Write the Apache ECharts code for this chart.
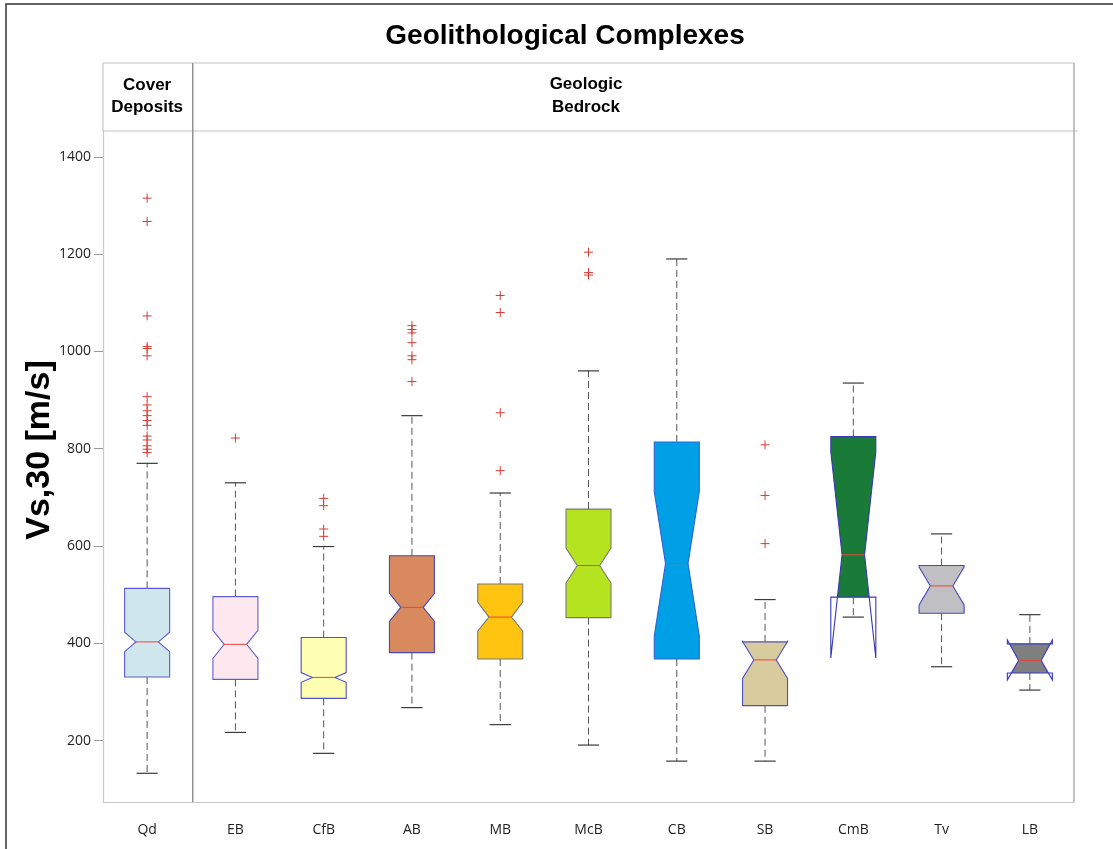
<!DOCTYPE html>
<html><head><meta charset="utf-8">
<script src="https://cdn.jsdelivr.net/npm/echarts@6/dist/echarts.min.js"></script>
<style>html,body{margin:0;padding:0;background:#fff}#c{width:1113px;height:849px}</style>
</head><body><div id="c"></div>
<script>
// ---- data ----
const categories   = ['Qd','EB','CfB','AB','MB','McB','CB','SB','CmB','Tv','LB'];
const lowerWhisker = [133, 217, 174, 268, 233, 191, 158, 158, 454, 352, 304];
const q1Values     = [331, 326, 287, 381, 368, 453, 368, 272, 495, 462, 339];
const medianValues = [403, 398, 330, 474, 454, 560, 564, 366, 582, 518, 365];
const q3Values     = [513, 496, 412, 580, 522, 676, 814, 403, 825, 560, 399];
const upperWhisker = [770, 730, 599, 868, 709, 960, 1190, 490, 935, 625, 459];
const notchLow     = [383, 369, 320, 445, 425, 524, 415, 328, 370, 479, 325];
const notchHigh    = [423, 427, 340, 503, 485, 596, 712, 404, 794, 557, 407];
const outliersQd   = [1315, 1267, 1073, 1010, 1006, 991, 907, 890, 878, 868, 858, 848, 826, 818, 806, 799, 792];
const outliersEB   = [822];
const outliersCfB  = [698, 683, 635, 620];
const outliersAB   = [1053, 1045, 1038, 1018, 991, 983, 938];
const outliersMB   = [1115, 1080, 874, 755];
const outliersMcB  = [1204, 1162, 1157];
const outliersSB   = [808, 704, 605];
const yTickValues  = [200, 400, 600, 800, 1000, 1200, 1400];

// ---- styles ----
const fillColors = ['#cfe6ec','#fde8f0','#ffffb3','#d8895d','#ffc410','#b6e31f','#00a0e6','#d8cc9f','#1a7a38','#c0c0c4','#7f7f7f'];
const edgeColors = ['#5b5bd0','#6060c8','#5050c8','#4a4ab0','#7a7a7a','#7a7a7a','#2f62d8','#5050c0','#3838b8','#4848c0','#3838c8'];

const boxData = categories.map((c, i) => [i, lowerWhisker[i], q1Values[i], medianValues[i], q3Values[i], upperWhisker[i], notchLow[i], notchHigh[i]]);
const outlierData = [];
[[0, outliersQd],[1, outliersEB],[2, outliersCfB],[3, outliersAB],[4, outliersMB],[5, outliersMcB],[7, outliersSB]]
  .forEach(([i, arr]) => arr.forEach(v => outlierData.push([i, v])));

function renderBox(params, api) {
  const i = api.value(0);
  const lw = api.value(1), q1 = api.value(2), med = api.value(3), q3 = api.value(4), uw = api.value(5), nlo = api.value(6), nhi = api.value(7);
  const cx = api.coord([i, med])[0];
  const band = api.size([1, 0])[0];
  const W = band * 0.255, inset = W * 0.5, capW = band * 0.12;
  const Y = v => api.coord([i, v])[1];
  const hw = v => {
    if (v >= nhi || v <= nlo) return W;
    if (v >= med) return W - inset * (nhi - v) / (nhi - med);
    return W - inset * (v - nlo) / (med - nlo);
  };
  const brk = [q1, med, q3];
  if (nlo > q1 && nlo < med) brk.push(nlo);
  if (nhi < q3 && nhi > med) brk.push(nhi);
  brk.sort((a, b) => a - b);
  const fillPts = brk.map(v => [cx - hw(v), Y(v)]).concat(brk.slice().reverse().map(v => [cx + hw(v), Y(v)]));
  const L = cx - W, R = cx + W, Li = cx - W + inset, Ri = cx + W - inset;
  const outline = [[L, Y(q1)], [L, Y(nlo)], [Li, Y(med)], [L, Y(nhi)], [L, Y(q3)], [R, Y(q3)], [R, Y(nhi)], [Ri, Y(med)], [R, Y(nlo)], [R, Y(q1)]];
  const dash = { stroke: '#555', lineWidth: 1, lineDash: [7, 4] };
  const cap = { stroke: '#3a3a3a', lineWidth: 1.2 };
  const hm = hw(med);
  return {
    type: 'group',
    children: [
      { type: 'line', shape: { x1: cx, y1: Y(q3), x2: cx, y2: Y(uw) }, style: dash },
      { type: 'line', shape: { x1: cx, y1: Y(q1), x2: cx, y2: Y(lw) }, style: dash },
      { type: 'line', shape: { x1: cx - capW, y1: Y(uw), x2: cx + capW, y2: Y(uw) }, style: cap },
      { type: 'line', shape: { x1: cx - capW, y1: Y(lw), x2: cx + capW, y2: Y(lw) }, style: cap },
      { type: 'polygon', shape: { points: fillPts }, style: { fill: fillColors[i], stroke: null } },
      { type: 'polygon', shape: { points: outline }, style: { fill: null, stroke: edgeColors[i], lineWidth: 1.1 } },
      { type: 'line', shape: { x1: cx - hm, y1: Y(med), x2: cx + hm, y2: Y(med) }, style: { stroke: '#e8463c', lineWidth: 1 } }
    ]
  };
}

function renderOutlier(params, api) {
  const p = api.coord([api.value(0), api.value(1)]);
  const s = 4.5;
  return {
    type: 'group',
    children: [
      { type: 'line', shape: { x1: p[0] - s, y1: p[1], x2: p[0] + s, y2: p[1] }, style: { stroke: '#d83a32', lineWidth: 1 } },
      { type: 'line', shape: { x1: p[0], y1: p[1] - s, x2: p[0], y2: p[1] + s }, style: { stroke: '#d83a32', lineWidth: 1 } }
    ]
  };
}

const chart = echarts.init(document.getElementById('c'), null, { renderer: 'canvas' });
const GRID = { left: 103, right: 39, top: 131, bottom: 47 };
const tickFont = "'Open Sans', 'Noto Sans', sans-serif";

chart.setOption({
  animation: false,
  backgroundColor: '#fff',
  grid: GRID,
  xAxis: {
    type: 'category',
    data: categories,
    boundaryGap: true,
    axisLine: { lineStyle: { color: '#c8c8c8', width: 1.2 } },
    axisTick: { alignWithLabel: true, length: 9, lineStyle: { color: '#999' }, interval: (idx) => idx !== 0 },
    axisLabel: { color: '#222', fontSize: 14, margin: 21, fontFamily: tickFont, interval: 0 },
    splitLine: { show: false }
  },
  yAxis: {
    type: 'value',
    min: 74,
    max: 1453,
    axisLine: { show: true, lineStyle: { color: '#c8c8c8', width: 1.2 } },
    axisTick: { show: true, length: 9, lineStyle: { color: '#999' }, customValues: yTickValues },
    axisLabel: { color: '#222', fontSize: 14, margin: 12, fontFamily: tickFont, customValues: yTickValues, formatter: v => String(v) },
    splitLine: { show: false }
  },
  series: [
    { type: 'custom', renderItem: renderBox, data: boxData, encode: { x: 0, y: [1, 2, 3, 4, 5] }, z: 2 },
    { type: 'custom', renderItem: renderOutlier, data: outlierData, encode: { x: 0, y: 1 }, z: 3 }
  ]
});

// decorations (header panel, divider, frame, texts)
const W0 = 1113, H0 = 849;
const plotL = GRID.left, plotR = W0 - GRID.right, plotT = GRID.top, plotB = H0 - GRID.bottom;
const headT = 63;
const c0 = chart.convertToPixel({ xAxisIndex: 0 }, 0);
const c1 = chart.convertToPixel({ xAxisIndex: 0 }, 1);
const divX = (c0 + c1) / 2 + 1.5;
const hdrFont = "'Liberation Sans', Arial, sans-serif";

chart.setOption({
  graphic: [
    { type: 'rect', shape: { x: 6, y: 4, width: 1200, height: 900 }, style: { fill: null, stroke: '#333', lineWidth: 1.5 }, silent: true },
    { type: 'line', shape: { x1: plotL, y1: headT, x2: plotR, y2: headT }, style: { stroke: '#c4c4c4', lineWidth: 1.2 } },
    { type: 'line', shape: { x1: plotL, y1: plotT, x2: plotR + 4, y2: plotT }, style: { stroke: '#c4c4c4', lineWidth: 1.2 } },
    { type: 'line', shape: { x1: plotL, y1: headT, x2: plotL, y2: plotT }, style: { stroke: '#c8c8c8', lineWidth: 1.2 } },
    { type: 'line', shape: { x1: plotR, y1: headT, x2: plotR, y2: plotB }, style: { stroke: '#9a9a9a', lineWidth: 1.2 } },
    { type: 'line', shape: { x1: divX, y1: headT, x2: divX, y2: plotB }, style: { stroke: '#8a8a8a', lineWidth: 1.4 } },
    { type: 'text', x: 565, y: 36, style: { text: 'Geolithological Complexes', font: "bold 28px " + hdrFont, fill: '#000', textAlign: 'center', textVerticalAlign: 'middle' } },
    { type: 'text', x: c0, y: 96, style: { text: 'Cover\nDeposits', font: "bold 17px " + hdrFont, fill: '#000', textAlign: 'center', textVerticalAlign: 'middle', lineHeight: 22 } },
    { type: 'text', x: 586, y: 96, style: { text: 'Geologic\nBedrock', font: "bold 17px " + hdrFont, fill: '#000', textAlign: 'center', textVerticalAlign: 'middle', lineHeight: 23 } },
    { type: 'text', x: 40, y: 450, rotation: Math.PI / 2, style: { text: 'Vs,30 [m/s]', font: "bold 34px " + hdrFont, fill: '#000', textAlign: 'center', textVerticalAlign: 'middle' } }
  ]
});
</script>
</body></html>
